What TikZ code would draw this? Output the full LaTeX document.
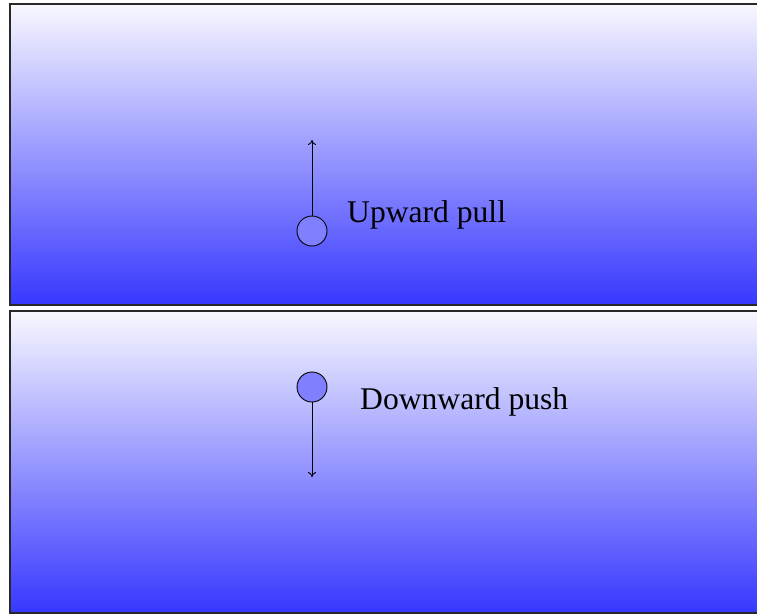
\documentclass[tikz,border=0pt]{standalone}
\usepackage{fontspec}
\setmainfont{Liberation Serif}
\usetikzlibrary{arrows.meta}
\definecolor{shtop}{RGB}{248,248,255}
\definecolor{shbot}{RGB}{55,55,255}
\definecolor{ballfill}{RGB}{128,128,255}
\definecolor{edge}{RGB}{40,40,40}
\tikzset{
  panel/.style={draw=edge, line width=1.6pt, top color=shtop, bottom color=shbot},
  ball/.style={circle, draw=black, line width=0.9pt, fill=ballfill, minimum size=30pt, inner sep=0pt},
  forcearrow/.style={draw=black, line width=0.9pt, -{To[length=5pt,width=8pt]}},
  lbl/.style={anchor=base west, inner sep=0pt, font=\fontsize{31.6}{37}\selectfont}
}
\begin{document}
\begin{tikzpicture}[x=1pt,y=-1pt]
\useasboundingbox (0,0) rectangle (757,614);
\clip (0,0) rectangle (757,614);
\fill[white] (0,0) rectangle (757,614);
\draw[panel] (10,4) rectangle (775,305);
\draw[panel] (10,311) rectangle (775,613);
\node[ball] (b1) at (312,231) {};
\coordinate (t1) at (312,140);
\draw[forcearrow] (b1.north) -- (t1);
\node[lbl] (l1) at (347,222) {Upward pull};
\node[ball] (b2) at (312,387) {};
\coordinate (t2) at (312,477);
\draw[forcearrow] (b2.south) -- (t2);
\node[lbl] (l2) at (360,409) {Downward push};
\end{tikzpicture}
\end{document}
